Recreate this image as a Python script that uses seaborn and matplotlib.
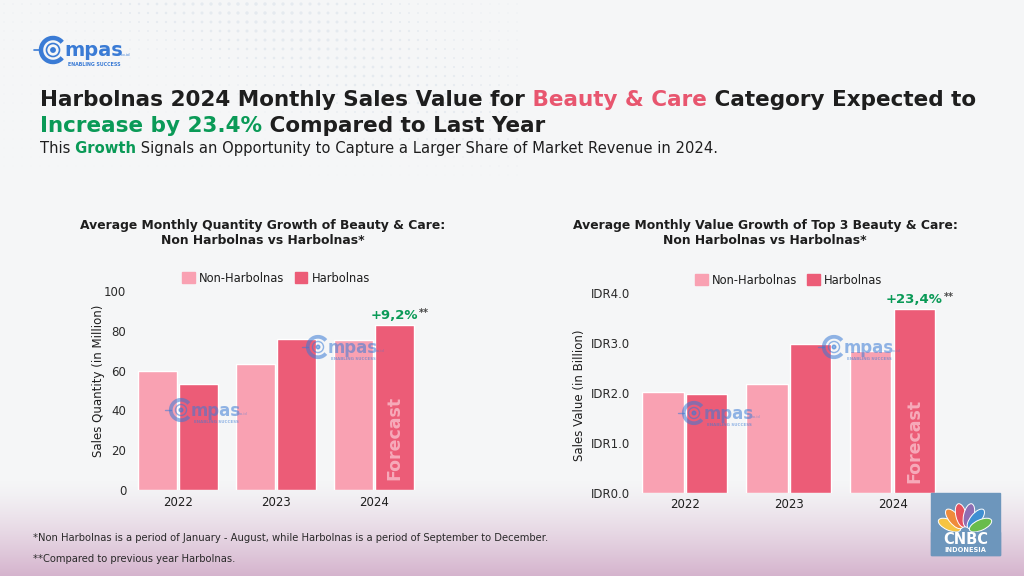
import numpy as np
import pandas as pd
import matplotlib
matplotlib.use('Agg')
import matplotlib.pyplot as plt
import seaborn as sns
from matplotlib.patches import Patch, Rectangle, Circle, Ellipse, Arc

# data
years = ['2022', '2023', '2024']
periods = ['Non-Harbolnas', 'Harbolnas']
qty_non = [59.8, 63.3, 75.4]
qty_harb = [53.3, 76.0, 83.0]
val_non = [2.03, 2.19, 2.85]
val_harb = [1.97, 2.98, 3.68]
qty_growth = '+9,2%'
val_growth = '+23,4%'

LIGHT = '#F9A1B2'
DARK = '#EC5C77'
GREEN = '#0A9A57'
PINK = '#E8566F'
INK = '#1E1E1E'
BLUE = '#3A7BD5'

sns.set_theme(style='white')
plt.rcParams['font.family'] = ['DejaVu Sans']

fig = plt.figure(figsize=(10.24, 5.76), dpi=100)
W, H = 1024, 576

# background: light grey with mauve gradient at the bottom + halftone dots
bg = fig.add_axes([0, 0, 1, 1], zorder=-5)
bg.set_xlim(0, W); bg.set_ylim(H, 0); bg.axis('off')
rows = np.arange(H)
t = np.clip((rows - 480) / 96, 0, 1) ** 1.3
c0 = np.array(matplotlib.colors.to_rgb('#F5F6F7'))
c1 = np.array(matplotlib.colors.to_rgb('#D5B3CD'))
grad = c0[None, :] * (1 - t[:, None]) + c1[None, :] * t[:, None]
bg.imshow(grad[:, None, :], extent=[0, W, H, 0], aspect='auto')
gx, gy = np.meshgrid(np.arange(4, 520, 9), np.arange(4, 180, 9))
d = np.abs((gx - 240) * 0.6 - gy) / np.sqrt(1.36)
size = (0.6 + 6 * np.exp(-(d / 60) ** 2)) * np.clip(1 - gy / 180, 0, 1)
bg.scatter(gx.ravel(), gy.ravel(), s=size.ravel(), color='#D3DCE7', alpha=0.45, lw=0)


def make_df(non, harb):
    return pd.DataFrame({
        'year': years * 2,
        'period': [periods[0]] * 3 + [periods[1]] * 3,
        'value': list(non) + list(harb),
    })


def bar_chart(ax, df, ylim, ticks, fmt, growth, ylabel, label_x, label_y):
    sns.barplot(data=df, x='year', y='value', hue='period', hue_order=periods,
                palette=[LIGHT, DARK], width=0.84, gap=0.05, saturation=1,
                legend=False, ax=ax)
    ax.patch.set_alpha(0)
    ax.set_ylim(*ylim)
    ax.set_yticks(ticks)
    ax.set_yticklabels([fmt(v) for v in ticks])
    for s in ax.spines.values():
        s.set_visible(False)
    ax.tick_params(axis='y', length=0, pad=2, labelsize=8.5, labelcolor='#2A2A2A')
    ax.tick_params(axis='x', length=0, pad=4, labelsize=8.5, labelcolor=INK)
    ax.set_xlabel('')
    ax.set_ylabel(ylabel, fontsize=8.5, color=INK)
    ax.yaxis.set_label_coords(label_x, label_y)
    ax.legend(handles=[Patch(color=LIGHT), Patch(color=DARK)], labels=periods,
              ncol=2, loc='center', bbox_to_anchor=(0.5, 1.065), frameon=False,
              fontsize=8.3, handlelength=1.1, handleheight=1.1, handletextpad=0.35,
              columnspacing=0.9, borderaxespad=0, labelcolor=INK)
    bar = ax.containers[1][2]
    bx = bar.get_x() + bar.get_width() / 2
    g = ax.annotate(growth, (bx, bar.get_height()), xytext=(0, 2), textcoords='offset points',
                    ha='center', va='bottom', fontsize=9.5, fontweight='bold', color=GREEN)
    ax.annotate('**', xy=(1, 1), xycoords=g, xytext=(0.5, 1), textcoords='offset points',
                ha='left', va='top', fontsize=7, fontweight='bold', color='#444444')
    ax.annotate('Forecast', (bx, 0), xytext=(0, 7), textcoords='offset points',
                rotation=90, ha='center', va='bottom', fontsize=12.5,
                fontweight='bold', color='#F7AABA')


ax1 = fig.add_axes([129 / W, 1 - 490 / H, 294 / W, 199 / H])
bar_chart(ax1, make_df(qty_non, qty_harb), (0, 100), [0, 20, 40, 60, 80, 100],
          lambda v: f'{v:.0f}', qty_growth, 'Sales Quantity (in Million)', -0.082, 0.55)

ax2 = fig.add_axes([633 / W, 1 - 492.7 / H, 311.5 / W, 199.4 / H])
bar_chart(ax2, make_df(val_non, val_harb), (0, 4), [0, 1, 2, 3, 4],
          lambda v: f'IDR{v:.1f}', val_growth, 'Sales Value (in Billion)', -0.152, 0.49)

# chart titles
fig.text(263 / W, 1 - 233 / H, 'Average Monthly Quantity Growth of Beauty & Care:\nNon Harbolnas vs Harbolnas*',
         ha='center', va='center', fontsize=8.9, fontweight='bold', color=INK, linespacing=1.25)
fig.text(765 / W, 1 - 233 / H, 'Average Monthly Value Growth of Top 3 Beauty & Care:\nNon Harbolnas vs Harbolnas*',
         ha='center', va='center', fontsize=8.9, fontweight='bold', color=INK, linespacing=1.25)

# header with coloured words
renderer = fig.canvas.get_renderer()


def rich_line(x, y, parts, size):
    for s, c, w in parts:
        txt = fig.text(x, y, s, color=c, fontsize=size, fontweight=w, va='baseline', ha='left')
        x = txt.get_window_extent(renderer=renderer).x1 / W


rich_line(40 / W, 1 - 106 / H, [('Harbolnas 2024 Monthly Sales Value for', INK, 'bold'),
                                (' Beauty & Care', PINK, 'bold'),
                                (' Category Expected to', INK, 'bold')], 15.5)
rich_line(40 / W, 1 - 132 / H, [('Increase by 23.4%', GREEN, 'bold'),
                                (' Compared to Last Year', INK, 'bold')], 15.5)
rich_line(40 / W, 1 - 153 / H, [('This', INK, 'normal'), (' Growth', GREEN, 'bold'),
                                (' Signals an Opportunity to Capture a Larger Share of Market Revenue in 2024.',
                                 INK, 'normal')], 10.6)

# footnotes
fig.text(33 / W, 1 - 538 / H, '*Non Harbolnas is a period of January - August, while Harbolnas is a period of September to December.',
         fontsize=7.2, color='#2A2A2A', va='center')
fig.text(33 / W, 1 - 559 / H, '**Compared to previous year Harbolnas.',
         fontsize=7.2, color='#2A2A2A', va='center')

# logos / watermarks on a pixel overlay
fg = fig.add_axes([0, 0, 1, 1], zorder=10)
fg.set_xlim(0, W); fg.set_ylim(H, 0); fg.axis('off'); fg.patch.set_alpha(0)


def compas(x, y, s=1.0, alpha=1.0):
    fg.add_patch(Arc((x, y), 24 * s, 24 * s, theta1=40, theta2=320, lw=3.2 * s, color=BLUE, alpha=alpha))
    fg.add_patch(Circle((x, y), 6.5 * s, fill=False, lw=1.2 * s, ec=BLUE, alpha=alpha))
    fg.add_patch(Circle((x, y), 2.2 * s, color=BLUE, alpha=alpha))
    fg.plot([x - 19 * s, x - 12 * s], [y, y], color=BLUE, lw=1.2 * s, alpha=alpha)
    fg.text(x + 11 * s, y + 1 * s, 'mpas', fontsize=14 * s, fontweight='bold', color=BLUE,
            va='center', ha='left', alpha=alpha)
    fg.text(x + 68 * s, y + 5 * s, 'co.id', fontsize=3 * s, color=BLUE, va='center', alpha=alpha)
    fg.text(x + 15 * s, y + 14 * s, 'ENABLING SUCCESS', fontsize=3.4 * s, fontweight='bold',
            color=BLUE, va='center', ha='left', alpha=alpha)


compas(53, 50, 1.0, 1.0)
compas(181, 410, 0.85, 0.55)
compas(318, 347, 0.85, 0.55)
compas(694, 413, 0.85, 0.55)
compas(834, 347, 0.85, 0.55)

# CNBC Indonesia badge
fg.add_patch(Rectangle((931, 493), 69, 62, color='#6D96BC'))
feathers = ['#F6C443', '#EF8B3B', '#E5505D', '#8F6DB2', '#3F8FD2', '#69BC4C']
for ang, col in zip(np.linspace(-66, 66, 6), feathers):
    a = np.radians(ang)
    cx, cy = 965 + 17 * np.sin(a), 532 - 17 * np.cos(a)
    fg.add_patch(Ellipse((cx, cy), 10.5, 24, angle=ang, fc=col, ec='white', lw=0.7))
fg.add_patch(Rectangle((931, 532), 69, 23, color='#6D96BC'))
fg.text(965.5, 540, 'CNBC', color='white', fontsize=10.5, fontweight='bold', ha='center', va='center')
fg.text(965.5, 549.5, 'INDONESIA', color='white', fontsize=4.8, fontweight='bold', ha='center', va='center')

fig.savefig('out.png', dpi=100)
